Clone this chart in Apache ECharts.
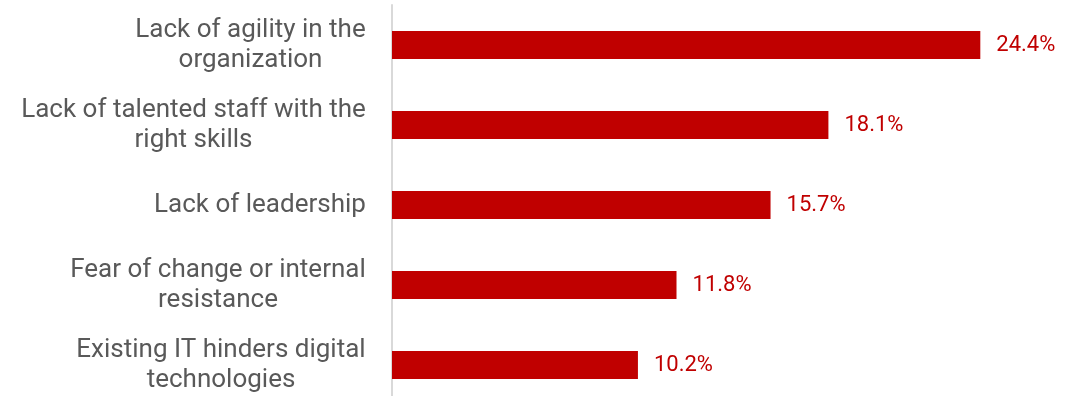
<!DOCTYPE html>
<html><head><meta charset="utf-8">
<script src="https://cdn.jsdelivr.net/npm/echarts@6/dist/echarts.min.js"></script>
<style>html,body{margin:0;padding:0;background:#fff}#c{width:1075px;height:396px}</style>
</head><body><div id="c"></div>
<script>
const categories = [
  "Lack of agility in the\norganization",
  "Lack of talented staff with the\nright skills",
  "Lack of leadership",
  "Fear of change or internal\nresistance",
  "Existing IT hinders digital\ntechnologies"
];
const values = [24.4, 18.1, 15.7, 11.8, 10.2];

const FONT = 'Roboto';
const FS = 26;
const cv = document.createElement('canvas').getContext('2d');
cv.font = FS + 'px ' + FONT;
const rich = {};
categories.forEach((c, i) => {
  const w = Math.max(...c.split('\n').map(l => cv.measureText(l).width));
  rich['c' + i] = { width: Math.ceil(w), align: 'center', color: '#595959',
    fontSize: FS, fontFamily: FONT, lineHeight: 30 };
});

const chart = echarts.init(document.getElementById('c'));
chart.setOption({
  animation: false,
  grid: { left: 392, top: 5, height: 400, width: 651, containLabel: false, outerBoundsMode: 'none' },
  xAxis: { type: 'value', min: 0, max: 27, show: false },
  yAxis: {
    type: 'category', inverse: true, data: categories,
    axisLine: { show: true, lineStyle: { color: '#d9d9d9', width: 2 } },
    axisTick: { show: false },
    axisLabel: { margin: 26, color: '#595959', fontSize: FS, lineHeight: 30,
      fontFamily: FONT, align: 'right', rich: rich,
      formatter: (v, i) => v.split('\n').map(l => '{c' + i + '|' + l + '}').join('\n') }
  },
  series: [{
    type: 'bar', data: values, barWidth: 28,
    itemStyle: { color: '#C00000' },
    label: { show: true, position: 'right', distance: 16, color: '#C00000',
      fontSize: 22, fontFamily: FONT, formatter: p => p.value.toFixed(1) + '%' }
  }]
});
</script></body></html>
